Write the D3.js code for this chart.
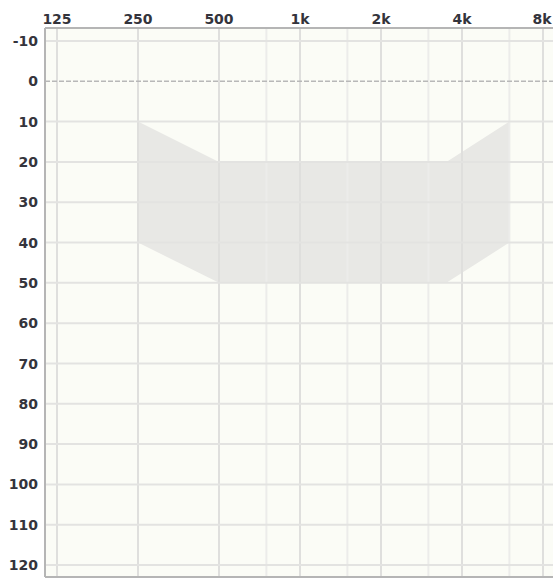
<!DOCTYPE html>
<html>
<head>
<meta charset="utf-8">
<script src="https://cdn.jsdelivr.net/npm/d3@7"></script>
<style>
  body { margin: 0; background: #fff; }
  svg text { font-family: "DejaVu Sans", Verdana, sans-serif; font-weight: bold; font-size: 14px; fill: #34343c; }
</style>
</head>
<body>
<div id="chart"></div>
<script>
// audiogram frequencies (Hz) and labels
const octaveFreqs = [125, 250, 500, 1000, 2000, 4000, 8000];
const octaveLabels = ['125', '250', '500', '1k', '2k', '4k', '8k'];
const midFreqs = [750, 1500, 3000, 6000];
// hearing level ticks (dB)
const levels = [-10, 0, 10, 20, 30, 40, 50, 60, 70, 80, 90, 100, 110, 120];

// shaded region outline
const bandFreqs = [250, 500, 3500, 6000, 6000, 3500, 500, 250];
const bandLevels = [10, 20, 20, 10, 40, 50, 50, 40];

const width = 553, height = 580;
const plotLeft = 45, plotTop = 28, plotBottom = 577;

const x = d3.scaleLog()
    .domain([125, 8000])
    .range([57, 543]);
const y = d3.scaleLinear()
    .domain([-10, 120])
    .range([41, 565]);

const svg = d3.select('#chart').append('svg')
    .attr('width', width)
    .attr('height', height);

// plot background
svg.append('rect')
    .attr('x', plotLeft).attr('y', plotTop)
    .attr('width', width - plotLeft).attr('height', plotBottom - plotTop)
    .attr('fill', '#fbfcf6');

// shaded band
const band = bandFreqs.map((f, i) => [x(f), y(bandLevels[i])]);
svg.append('path')
    .attr('d', d3.line()(band) + 'Z')
    .attr('fill', '#e8e8e5');

// grid lines
svg.selectAll('.vmid')
    .data(midFreqs)
    .enter().append('line')
    .attr('x1', d => x(d)).attr('x2', d => x(d))
    .attr('y1', plotTop).attr('y2', plotBottom)
    .attr('stroke', '#ececea').attr('stroke-width', 2);

svg.selectAll('.vmaj')
    .data(octaveFreqs)
    .enter().append('line')
    .attr('x1', d => x(d)).attr('x2', d => x(d))
    .attr('y1', plotTop).attr('y2', plotBottom)
    .attr('stroke', '#dfdfdd').attr('stroke-width', 2);

svg.selectAll('.hgrid')
    .data(levels.filter(d => d !== 0))
    .enter().append('line')
    .attr('x1', plotLeft).attr('x2', width)
    .attr('y1', d => y(d)).attr('y2', d => y(d))
    .attr('stroke', '#e3e3e1').attr('stroke-width', 2);

// 0 dB reference line
svg.append('line')
    .attr('x1', plotLeft).attr('x2', width)
    .attr('y1', y(0)).attr('y2', y(0))
    .attr('stroke', '#b8b8b8').attr('stroke-width', 1.5)
    .attr('stroke-dasharray', '5,2');

// borders
svg.append('line')
    .attr('x1', plotLeft).attr('x2', width)
    .attr('y1', plotTop).attr('y2', plotTop)
    .attr('stroke', '#b5b5b5').attr('stroke-width', 2);
svg.append('line')
    .attr('x1', plotLeft).attr('x2', width)
    .attr('y1', plotBottom).attr('y2', plotBottom)
    .attr('stroke', '#b5b5b5').attr('stroke-width', 2);
svg.append('line')
    .attr('x1', plotLeft).attr('x2', plotLeft)
    .attr('y1', plotTop).attr('y2', plotBottom)
    .attr('stroke', '#b5b5b5').attr('stroke-width', 2);

// labels
svg.selectAll('.xlab')
    .data(octaveFreqs)
    .enter().append('text')
    .attr('x', (d, i) => i === octaveFreqs.length - 1 ? x(d) - 1 : x(d))
    .attr('y', 24)
    .attr('text-anchor', 'middle')
    .text((d, i) => octaveLabels[i]);

svg.selectAll('.ylab')
    .data(levels)
    .enter().append('text')
    .attr('x', 38)
    .attr('y', d => y(d))
    .attr('dy', '0.36em')
    .attr('text-anchor', 'end')
    .text(d => d);
</script>
</body>
</html>
